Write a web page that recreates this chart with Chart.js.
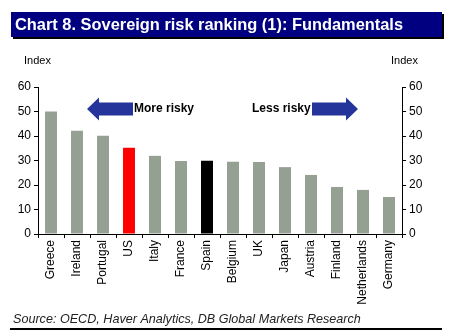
<!DOCTYPE html>
<html>
<head>
<meta charset="utf-8">
<script src="https://cdn.jsdelivr.net/npm/chart.js@4/dist/chart.umd.min.js"></script>
<style>
  html, body { margin: 0; padding: 0; background: #fff; }
  #wrap { position: relative; width: 473px; height: 335px; }
</style>
</head>
<body>
<div id="wrap"><canvas id="c" width="473" height="335"></canvas></div>
<script>
// Sovereign risk ranking: fundamentals index by country
const countries = ['Greece', 'Ireland', 'Portugal', 'US', 'Italy', 'France', 'Spain',
  'Belgium', 'UK', 'Japan', 'Austria', 'Finland', 'Netherlands', 'Germany'];
const indexValues = [50, 42.1, 40.1, 35.2, 31.9, 29.8, 29.9, 29.5, 29.4, 27.3, 24.1, 19.2, 18.0, 15.1];
const yTicks = [0, 10, 20, 30, 40, 50, 60];

const titleText = 'Chart 8. Sovereign risk ranking (1): Fundamentals';
const sourceText = 'Source: OECD, Haver Analytics, DB Global Markets Research';

const FONT = 'Arial, "Liberation Sans", sans-serif';

// Dithered grey/green fill used for the ordinary bars
function ditherPattern() {
  const p = document.createElement('canvas');
  p.width = 2; p.height = 2;
  const g = p.getContext('2d');
  g.fillStyle = '#a09a9e'; g.fillRect(0, 0, 1, 1); g.fillRect(1, 1, 1, 1);
  g.fillStyle = '#8aa888'; g.fillRect(1, 0, 1, 1); g.fillRect(0, 1, 1, 1);
  return document.getElementById('c').getContext('2d').createPattern(p, 'repeat');
}
const pat = ditherPattern();
const barColors = countries.map(c => c === 'US' ? '#ff0000' : (c === 'Spain' ? '#000000' : pat));

function drawArrow(ctx, tipX, baseX, cy, dir) {
  // dir = -1 points left, +1 points right
  const headLen = 12, headHalf = 11.5, shaftHalf = 6.5;
  const neckX = tipX - dir * headLen;
  ctx.beginPath();
  ctx.moveTo(tipX, cy);
  ctx.lineTo(neckX, cy - headHalf);
  ctx.lineTo(neckX, cy - shaftHalf);
  ctx.lineTo(baseX, cy - shaftHalf);
  ctx.lineTo(baseX, cy + shaftHalf);
  ctx.lineTo(neckX, cy + shaftHalf);
  ctx.lineTo(neckX, cy + headHalf);
  ctx.closePath();
  ctx.fillStyle = '#24349a';
  ctx.fill();
}

const decorations = {
  id: 'decorations',
  afterDraw(chart) {
    const ctx = chart.ctx;
    ctx.save();
    // title banner with shadow
    ctx.fillStyle = '#000000';
    ctx.fillRect(13, 14, 431, 25);
    ctx.fillStyle = '#000080';
    ctx.fillRect(11, 12, 431, 25);
    ctx.fillStyle = '#ffffff';
    ctx.font = 'bold 16.4px ' + FONT;
    ctx.textBaseline = 'middle';
    ctx.textAlign = 'left';
    ctx.fillText(titleText, 15, 25);

    // axis captions
    ctx.fillStyle = '#000000';
    ctx.font = '11px ' + FONT;
    ctx.fillText('Index', 24, 61);
    ctx.fillText('Index', 391, 61);

    // direction arrows
    drawArrow(ctx, 87, 133, 109, -1);
    drawArrow(ctx, 358, 312, 109, 1);
    ctx.fillStyle = '#000000';
    ctx.font = 'bold 12px ' + FONT;
    ctx.fillText('More risky', 134, 109);
    ctx.fillText('Less risky', 252, 109);

    // source and rule
    ctx.fillStyle = '#222222';
    ctx.font = 'italic 12.6px ' + FONT;
    ctx.fillText(sourceText, 13, 319);
    ctx.fillStyle = '#000000';
    ctx.fillRect(10, 328, 432, 2);
    ctx.restore();
  }
};

new Chart(document.getElementById('c'), {
  type: 'bar',
  data: {
    labels: countries,
    datasets: [{
      data: indexValues,
      backgroundColor: barColors,
      borderWidth: 0,
      categoryPercentage: 1,
      barPercentage: 0.46
    }]
  },
  options: {
    responsive: false,
    animation: false,
    events: [],
    layout: { padding: { top: 87, left: 0, right: 0, bottom: 0 } },
    plugins: { legend: { display: false }, tooltip: { enabled: false } },
    scales: {
      x: {
        offset: true,
        grid: { offset: true, drawOnChartArea: false, color: '#000', tickLength: 4, tickWidth: 1 },
        border: { color: '#000', width: 1 },
        ticks: {
          color: '#000', font: { family: FONT, size: 12 },
          minRotation: 90, maxRotation: 90, autoSkip: false, padding: 2
        },
        afterFit(s) { s.height = 101; }
      },
      y: {
        position: 'left',
        min: 0, max: 60,
        afterBuildTicks(s) { s.ticks = yTicks.map(v => ({ value: v })); },
        grid: { drawOnChartArea: false, color: '#000', tickLength: 4 },
        border: { color: '#000', width: 1 },
        ticks: { color: '#000', font: { family: FONT, size: 12 }, padding: 3 },
        afterFit(s) { s.width = 38; }
      },
      y2: {
        position: 'right',
        min: 0, max: 60,
        afterBuildTicks(s) { s.ticks = yTicks.map(v => ({ value: v })); },
        grid: { drawOnChartArea: false, color: '#000', tickLength: 4 },
        border: { color: '#000', width: 1 },
        ticks: { color: '#000', font: { family: FONT, size: 12 }, padding: 3 },
        afterFit(s) { s.width = 71; }
      }
    }
  },
  plugins: [decorations]
});
</script>
</body>
</html>
